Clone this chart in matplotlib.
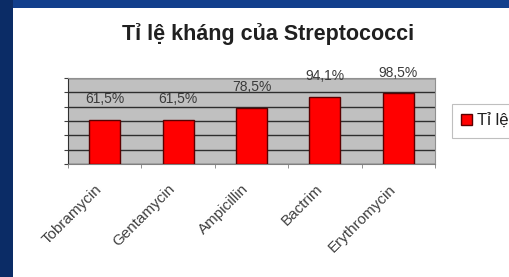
import matplotlib
matplotlib.use('Agg')
import matplotlib.pyplot as plt
from matplotlib.patches import Rectangle

# data
drugs = ['Tobramycin', 'Gentamycin', 'Ampicillin', 'Bactrim', 'Erythromycin']
rates = [61.5, 61.5, 78.5, 94.1, 98.5]
rate_labels = ['61,5%', '61,5%', '78,5%', '94,1%', '98,5%']
series_name = 'Tỉ lệ'
title = 'Tỉ lệ kháng của Streptococci'

plt.rcParams['font.family'] = ['Liberation Sans', 'DejaVu Sans']

fig = plt.figure(figsize=(5.09, 2.77), dpi=100)
fig.patch.set_facecolor('#123f8c')

# slide background: blue frame, white chart area
fig.add_artist(Rectangle((0, 0), 13/509, 1, transform=fig.transFigure,
                         facecolor='#0b2c66', edgecolor='none', zorder=-10))
fig.add_artist(Rectangle((13/509, 0), 1, 269/277, transform=fig.transFigure,
                         facecolor='white', edgecolor='none', zorder=-10))

ax = fig.add_axes([68/509, 113/277, 367/509, 86/277])
ax.set_facecolor('#c0c0c0')

x = list(range(len(drugs)))
bars = ax.bar(x, rates, width=0.42, color='#ff0000', edgecolor='#5a0000',
              linewidth=1.0, zorder=3, label=series_name)

for xi, v, lab in zip(x, rates, rate_labels):
    ax.annotate(lab, (xi, v), xytext=(0, 15), textcoords='offset points',
                ha='center', va='center', fontsize=10, color='#3a3a3a',
                zorder=4, annotation_clip=False)

ax.set_xlim(-0.5, len(drugs) - 0.5)
ax.set_ylim(0, 120)
ax.set_yticks(range(0, 121, 20))
ax.set_yticklabels([])
ax.yaxis.grid(True, color='#2e2e2e', linewidth=1.0, zorder=1)
ax.set_axisbelow(True)

ax.set_xticks(x)
ax.set_xticklabels(drugs, rotation=45, ha='right', va='top',
                   fontsize=11, color='#404040')
ax.set_xticks([i + 0.5 for i in range(-1, len(drugs))], minor=True)
ax.tick_params(axis='x', which='major', length=0, pad=13)
ax.tick_params(axis='x', which='minor', length=3, direction='out', color='#808080')
ax.tick_params(axis='y', which='both', length=3, direction='out', color='#404040')

for s in ['top', 'right']:
    ax.spines[s].set_color('#909090')
    ax.spines[s].set_linewidth(0.8)
ax.spines['left'].set_color('#303030')
ax.spines['bottom'].set_color('#808080')

fig.text(268/509, 1 - 34/277, title, ha='center', va='center',
         fontsize=15.5, fontweight='bold', color='#202020')

leg = ax.legend(loc='center left', bbox_to_anchor=(452/509, 1 - 121/277),
                bbox_transform=fig.transFigure, fontsize=12, frameon=True,
                fancybox=False, handlelength=0.65, handleheight=0.65,
                handletextpad=0.3, borderpad=0.55, borderaxespad=0,
                labelcolor='#202020')
leg.get_frame().set_edgecolor('#b0b0b0')
leg.get_frame().set_linewidth(0.8)

fig.savefig('out.png', dpi=100, facecolor=fig.get_facecolor())
plt.close()
